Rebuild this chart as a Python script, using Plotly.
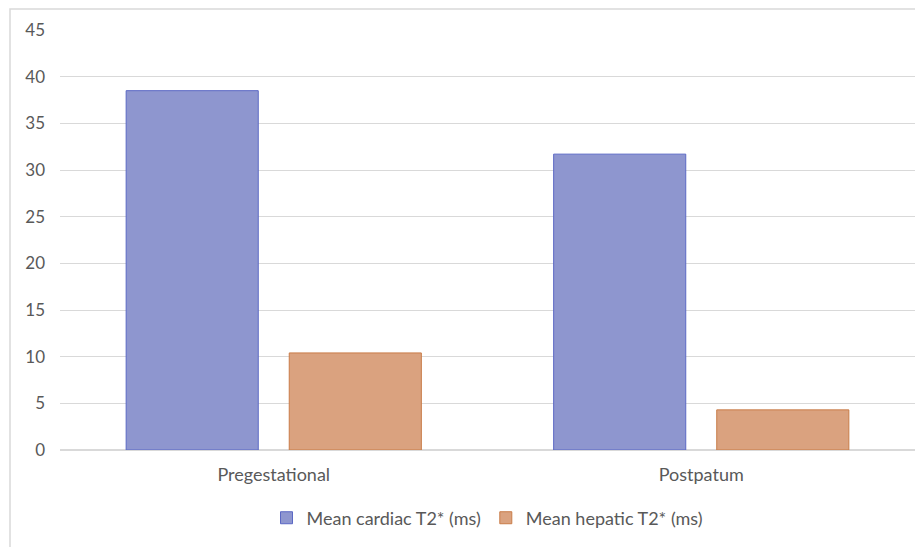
import plotly.graph_objects as go

categories = ["Pregestational", "Postpatum"]
cardiac = [38.5, 31.7]
hepatic = [10.4, 4.3]
series_names = ["Mean cardiac T2* (ms)", "Mean hepatic T2* (ms)"]
y_ticks = [0, 5, 10, 15, 20, 25, 30, 35, 40, 45]

font = "Lato, Open Sans, sans-serif"
grey = "#595959"

fig = go.Figure()
fig.add_trace(go.Bar(
    x=categories, y=cardiac, name=series_names[0],
    marker=dict(color="#8E96CF", line=dict(color="#5B68C4", width=1)),
))
fig.add_trace(go.Bar(
    x=categories, y=hepatic, name=series_names[1],
    marker=dict(color="#DAA27F", line=dict(color="#C97C48", width=1)),
))

fig.update_layout(
    width=915, height=539,
    margin=dict(l=52, r=8, t=22, b=97),
    paper_bgcolor="white", plot_bgcolor="white",
    barmode="group", bargap=0.237, bargroupgap=0.19,
    font=dict(family=font, size=16, color=grey),
    showlegend=True,
    legend=dict(orientation="h", x=0.5, xanchor="center", y=-0.162, yanchor="middle",
                font=dict(family=font, size=18, color=grey), itemwidth=30,
                tracegroupgap=0),
    xaxis=dict(showgrid=False, showline=True, linecolor="#D9D9D9", linewidth=1,
               ticks="", automargin=False, ticklabelstandoff=8,
               tickfont=dict(size=18, color=grey)),
    yaxis=dict(range=[0, 45], tickvals=y_ticks, showgrid=True, gridcolor="#D9D9D9",
               gridwidth=1, zeroline=True, zerolinecolor="#D9D9D9", showline=False,
               ticks="", automargin=False, ticklabelstandoff=14,
               tickfont=dict(size=17, color=grey)),
    shapes=[dict(type="rect", xref="paper", yref="paper",
                 x0=(2 - 52) / 855, x1=1.05, y0=-0.4, y1=(442 - 1) / 420,
                 line=dict(color="#D9D9D9", width=1.5), fillcolor="rgba(0,0,0,0)",
                 layer="below")],
)

fig.write_html("out.html")
